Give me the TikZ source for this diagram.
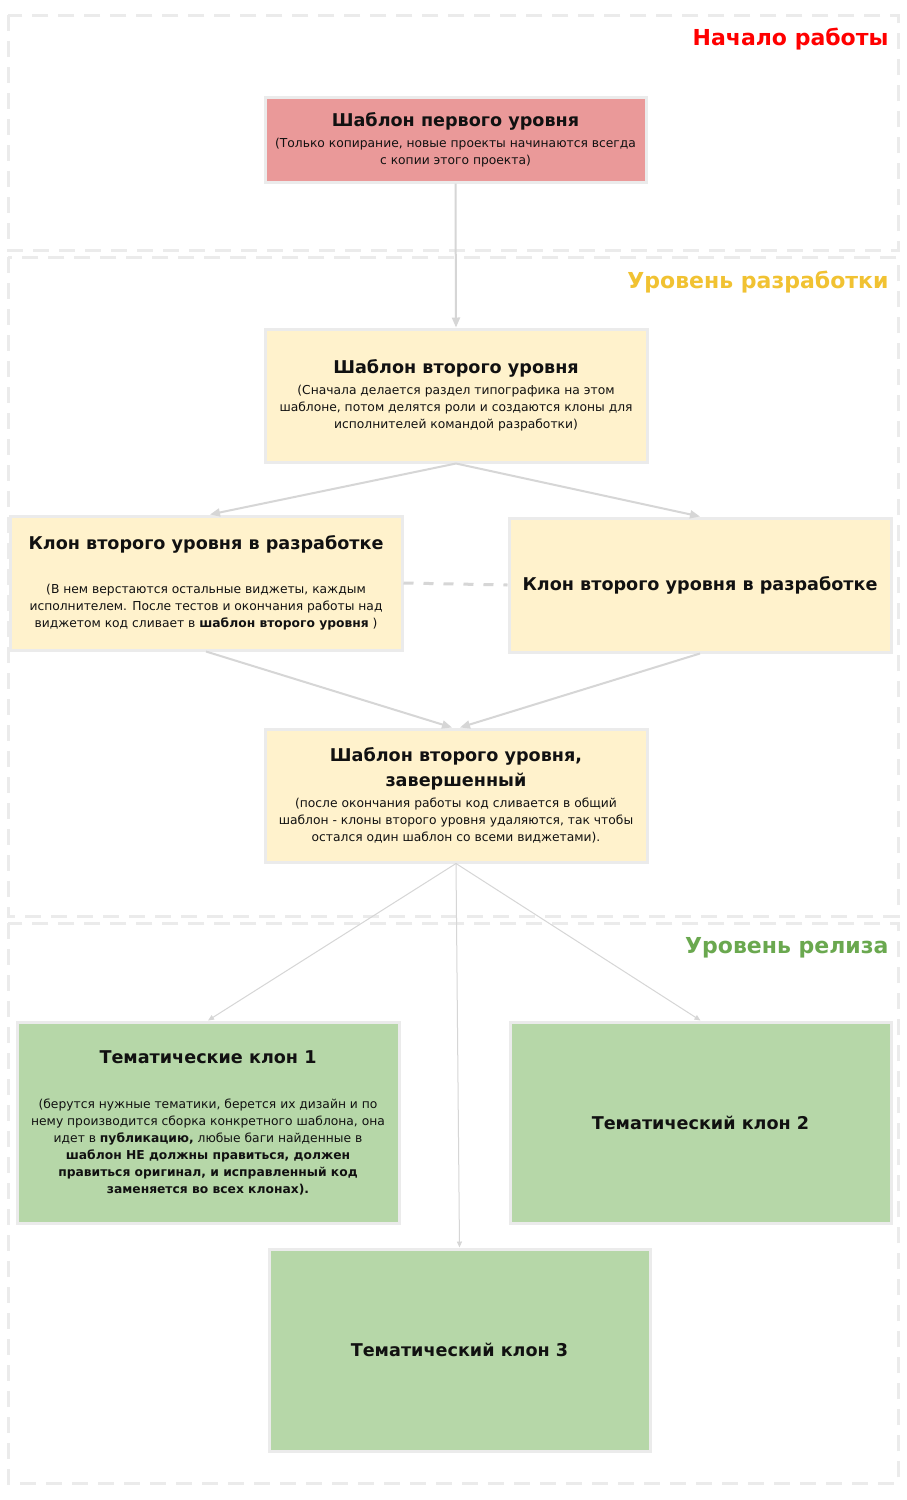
\documentclass[tikz,border=0pt]{standalone}
\usepackage{fontspec}
\setmainfont{DejaVu Sans}
\usetikzlibrary{arrows.meta}
\definecolor{pinkf}{HTML}{EA9999}
\definecolor{yellowf}{HTML}{FFF2CC}
\definecolor{greenf}{HTML}{B6D7A8}
\definecolor{boxline}{HTML}{EBEBEB}
\definecolor{regionline}{HTML}{EBEBEB}
\definecolor{conn}{HTML}{D6D6D6}
\definecolor{lblred}{HTML}{FF0000}
\definecolor{lblgold}{HTML}{F1C232}
\definecolor{lblgreen}{HTML}{6AA84F}
\definecolor{txt}{HTML}{111111}
\newcommand\mysmall{\fontsize{12.3}{17}\selectfont}
\newcommand\mytitle{\fontsize{17.6}{24}\selectfont\bfseries}
\begin{document}
\begin{tikzpicture}[x=1pt,y=-1pt,
  region/.style={draw=regionline, line width=3pt, dash pattern=on 16pt off 10pt},
  box/.style={draw=boxline, line width=3pt, align=center, inner sep=0pt, font=\mysmall, text=txt},
  lvl/.style={anchor=base east, font=\fontsize{22}{26}\selectfont\bfseries},
  link/.style={draw=conn, line width=2pt, -{Triangle[length=10pt,width=8pt]}},
  thinlink/.style={draw=conn, line width=1pt, -{Triangle[length=6pt,width=5pt]}},
  dashlink/.style={draw=conn, line width=3pt, dash pattern=on 10pt off 10pt}
]
\useasboundingbox (0,0) rectangle (907,1500);
\fill[white] (0,0) rectangle (907,1500);

% regions
\draw[region] (8,15) rectangle (898,250);
\draw[region] (8,257) rectangle (898,916);
\draw[region] (8,923) rectangle (898,1483);

\node[lvl, text=lblred] (l1) at (892,45) {Начало работы};
\node[lvl, text=lblgold] (l2) at (892,288) {Уровень разработки};
\node[lvl, text=lblgreen] (l3) at (892,953) {Уровень релиза};

% boxes
\node[box, fill=pinkf, minimum width=381pt, minimum height=85pt] (b1) at (455.5,139.5)
  {{\mytitle Шаблон первого уровня}\\[4pt]
   (Только копирание, новые проекты начинаются всегда\\
   с копии этого проекта)};

\node[box, fill=yellowf, minimum width=382pt, minimum height=133pt] (b2) at (456,395.5)
  {{\mytitle Шаблон второго уровня}\\[4pt]
   (Сначала делается раздел типографика на этом\\
   шаблоне, потом делятся роли и создаются клоны для\\
   исполнителей командой разработки)};

\node[box, fill=yellowf, minimum width=392pt, minimum height=134pt] (b3) at (206,583)
  {{\mytitle Клон второго уровня в разработке}\\[27pt]
   (В нем верстаются остальные виджеты, каждым\\
   исполнителем. После тестов и окончания работы над\\
   виджетом код сливает в \textbf{шаблон второго уровня} )};

\node[box, fill=yellowf, minimum width=382pt, minimum height=134pt] (b4) at (700,585)
  {{\mytitle Клон второго уровня в разработке}};

\node[box, fill=yellowf, minimum width=382pt, minimum height=133pt] (b5) at (456,795.5)
  {{\mytitle Шаблон второго уровня,}\\[7pt]
   {\mytitle завершенный}\\[4pt]
   (после окончания работы код сливается в общий\\
   шаблон - клоны второго уровня удаляются, так чтобы\\
   остался один шаблон со всеми виджетами).};

\node[box, fill=greenf, minimum width=382pt, minimum height=201pt] (b6) at (208,1122.5)
  {{\mytitle Тематические клон 1}\\[28pt]
   (берутся нужные тематики, берется их дизайн и по\\
   нему производится сборка конкретного шаблона, она\\
   идет в \textbf{публикацию,} любые баги найденные в\\
   \textbf{шаблон НЕ должны правиться, должен}\\
   \textbf{правиться оригинал, и исправленный код}\\
   \textbf{заменяется во всех клонах).}};

\node[box, fill=greenf, minimum width=381pt, minimum height=201pt] (b7) at (700.5,1122.5)
  {{\mytitle Тематический клон 2}};

\node[box, fill=greenf, minimum width=381pt, minimum height=202pt] (b8) at (459.5,1350)
  {{\mytitle Тематический клон 3}};

% connectors
\draw[link] (b1.south) -- (b2.north);
\draw[link] (b2.south) -- ([xshift=4pt]b3.north);
\draw[link] (b2.south) -- (b4.north);
\draw[link] (b3.south) -- ([xshift=-4pt]b5.north);
\draw[link] (b4.south) -- ([xshift=4pt]b5.north);
\draw[dashlink] (b3.east) -- (b4.west);
\draw[thinlink] (b5.south) -- (b6.north);
\draw[thinlink] (b5.south) -- (b7.north);
\draw[thinlink] (b5.south) -- (b8.north);
\end{tikzpicture}
\end{document}
